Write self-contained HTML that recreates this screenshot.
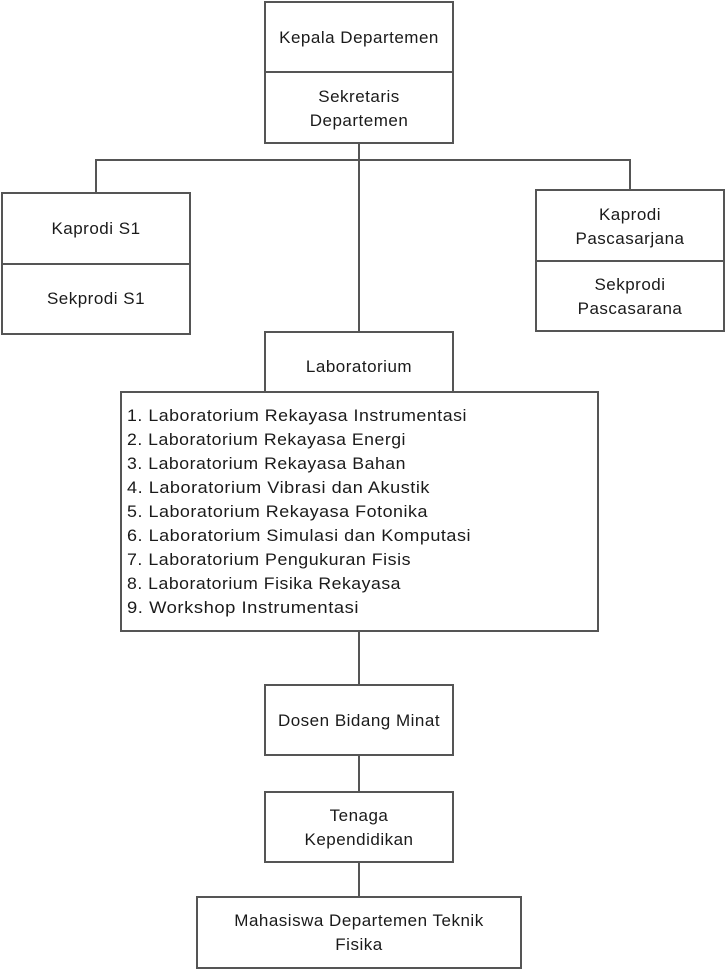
<!DOCTYPE html>
<html><head><style>
html,body{margin:0;padding:0;background:#fff;}
svg text{font-family:"Liberation Sans",sans-serif;font-size:17px;letter-spacing:0.5px;fill:#1a1a1a;}
</style></head><body>
<svg width="726" height="970" viewBox="0 0 726 970" xmlns="http://www.w3.org/2000/svg">
<g fill="none" stroke="#555" stroke-width="2">
<rect x="265" y="2" width="188" height="141"/>
<line x1="265" y1="72" x2="453" y2="72"/>
<line x1="359" y1="143" x2="359" y2="332"/>
<polyline points="96,193 96,160 630,160 630,190"/>
<rect x="2" y="193" width="188" height="141"/>
<line x1="2" y1="264" x2="190" y2="264"/>
<rect x="536" y="190" width="188" height="141"/>
<line x1="536" y1="261" x2="724" y2="261"/>
<rect x="265" y="332" width="188" height="60"/>
<rect x="121" y="392" width="477" height="239"/>
<line x1="359" y1="631" x2="359" y2="685"/>
<rect x="265" y="685" width="188" height="70"/>
<line x1="359" y1="755" x2="359" y2="792"/>
<rect x="265" y="792" width="188" height="70"/>
<line x1="359" y1="862" x2="359" y2="897"/>
<rect x="197" y="897" width="324" height="71"/>
</g>
<g text-anchor="middle">
<text x="359" y="43">Kepala Departemen</text>
<text x="359" y="102">Sekretaris</text>
<text x="359" y="126">Departemen</text>
<text x="96" y="234">Kaprodi S1</text>
<text x="96" y="304">Sekprodi S1</text>
<text x="630" y="220">Kaprodi</text>
<text x="630" y="244">Pascasarjana</text>
<text x="630" y="290">Sekprodi</text>
<text x="630" y="314">Pascasarana</text>
<text x="359" y="372">Laboratorium</text>
<text x="359" y="726">Dosen Bidang Minat</text>
<text x="359" y="821">Tenaga</text>
<text x="359" y="845">Kependidikan</text>
<text x="359" y="926">Mahasiswa Departemen Teknik</text>
<text x="359" y="950">Fisika</text>
</g>
<g>
<text x="127" y="421" textLength="340" lengthAdjust="spacingAndGlyphs">1.  Laboratorium Rekayasa Instrumentasi</text>
<text x="127" y="445" textLength="279" lengthAdjust="spacingAndGlyphs">2.  Laboratorium Rekayasa Energi</text>
<text x="127" y="469" textLength="279" lengthAdjust="spacingAndGlyphs">3.  Laboratorium Rekayasa Bahan</text>
<text x="127" y="493" textLength="303" lengthAdjust="spacingAndGlyphs">4.  Laboratorium Vibrasi dan Akustik</text>
<text x="127" y="517" textLength="301" lengthAdjust="spacingAndGlyphs">5.  Laboratorium Rekayasa Fotonika</text>
<text x="127" y="541" textLength="344" lengthAdjust="spacingAndGlyphs">6.  Laboratorium Simulasi dan Komputasi</text>
<text x="127" y="565" textLength="284" lengthAdjust="spacingAndGlyphs">7.  Laboratorium Pengukuran Fisis</text>
<text x="127" y="589" textLength="274" lengthAdjust="spacingAndGlyphs">8.  Laboratorium Fisika Rekayasa</text>
<text x="127" y="613" textLength="232" lengthAdjust="spacingAndGlyphs">9.  Workshop Instrumentasi</text>
</g>
</svg>
</body></html>
